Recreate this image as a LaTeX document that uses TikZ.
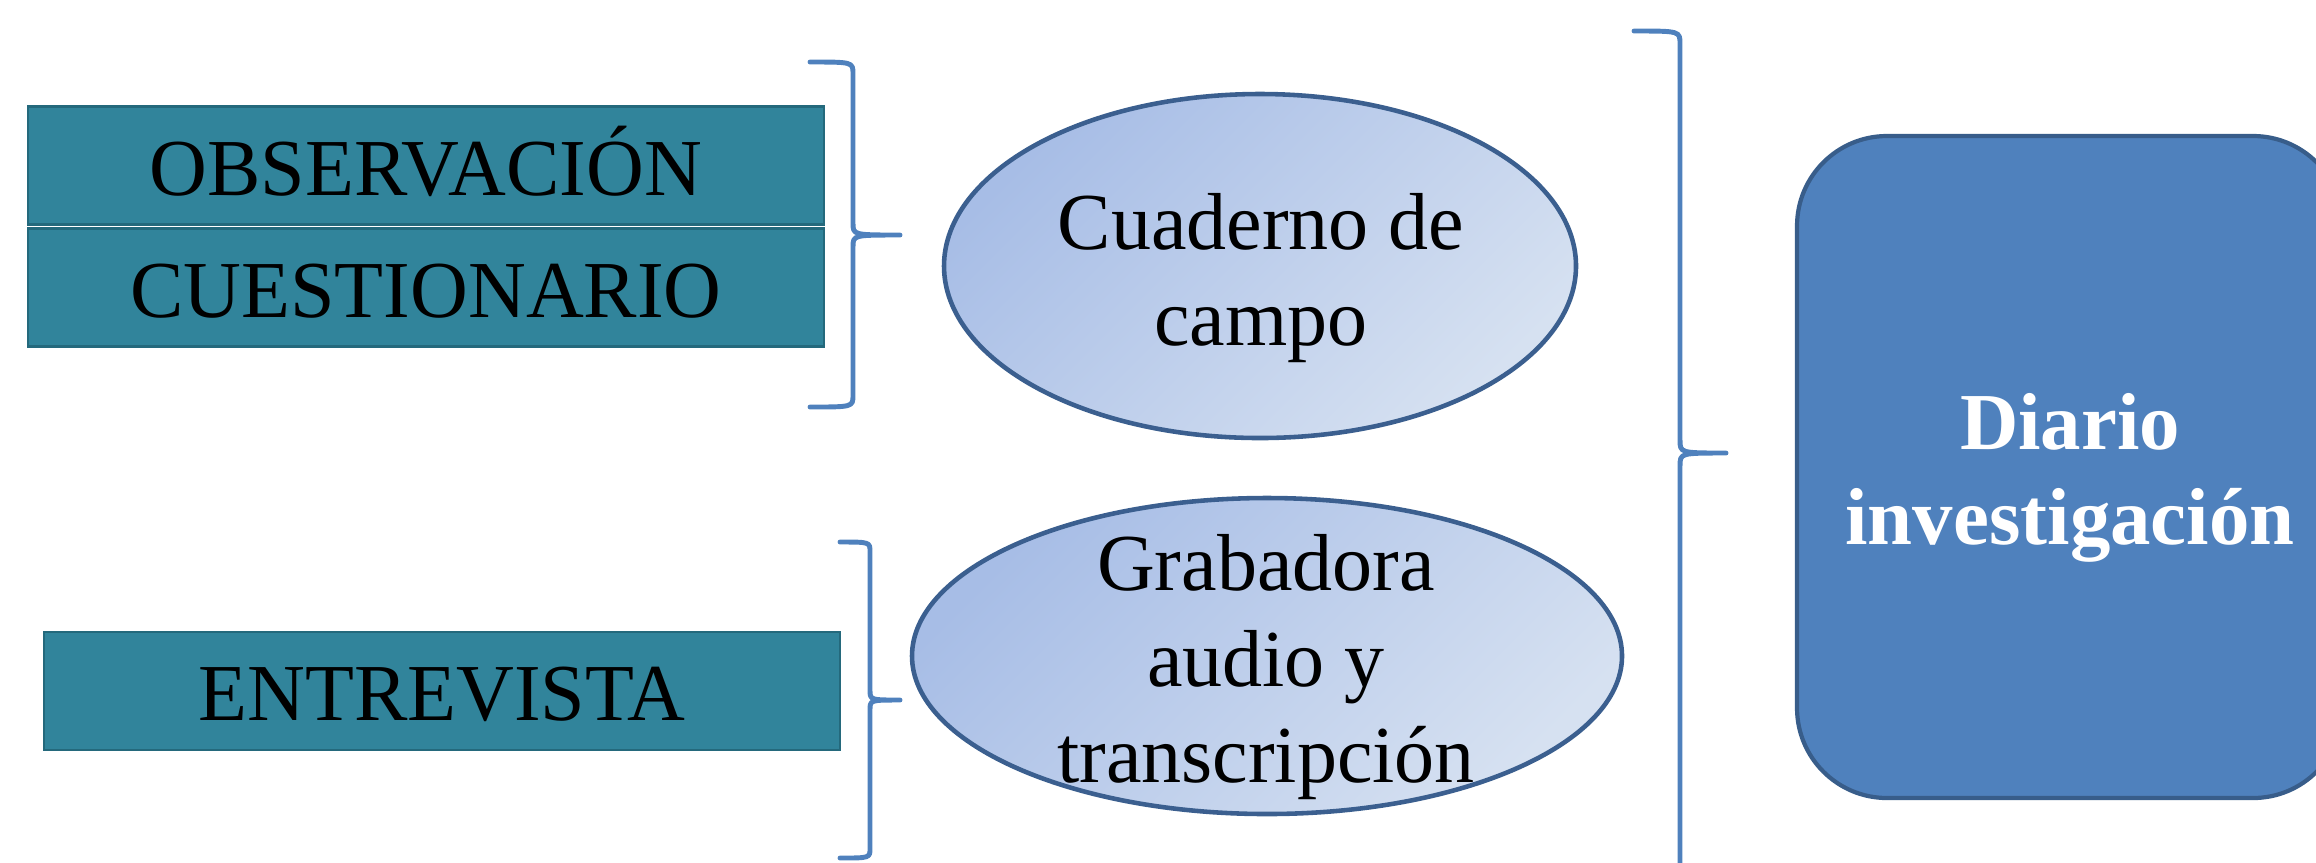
\documentclass[tikz,border=0pt]{standalone}
\usepackage{fontspec}
\setmainfont{Liberation Serif}
\newfontfamily\slimserif[FakeStretch=0.99]{Liberation Serif}
\usepackage{tikz}
\usetikzlibrary{shapes.geometric}

\definecolor{boxteal}{HTML}{31849B}
\definecolor{boxedge}{HTML}{24697C}
\definecolor{bracecol}{HTML}{4F81BD}
\definecolor{ovaledge}{HTML}{3B5F8F}
\definecolor{ovaltop}{HTML}{A7BDE6}
\definecolor{ovalbot}{HTML}{D6E1F1}
\definecolor{diariofill}{HTML}{4F81BD}
\definecolor{diarioedge}{HTML}{385D8A}

\tikzset{
  tecnica/.style={rectangle, fill=boxteal, draw=boxedge, line width=0.6pt,
    minimum height=1.18cm, inner sep=0pt,
    font=\slimserif\fontsize{23}{27.2}\selectfont, text height=17pt, text depth=0pt},
  instrumento/.style={ellipse, draw=ovaledge, line width=1.3pt,
    top color=ovaltop, bottom color=ovalbot, shading angle=45, inner sep=0pt},
  rotulo/.style={align=center, font=\slimserif\fontsize{23}{27.2}\selectfont},
  diariobox/.style={rectangle, rounded corners=0.9cm, fill=diariofill, draw=diarioedge,
    line width=1.2pt, minimum width=5.46cm, minimum height=6.62cm},
  diariotext/.style={align=center, text=white, font=\bfseries\fontsize{23}{27.2}\selectfont},
  bracket/.style={draw=bracecol, line width=1.4pt, line join=round, line cap=round}
}

\begin{document}
\begin{tikzpicture}
  \useasboundingbox (0,0) rectangle (23.16,-8.62);
  \clip (0,0) rectangle (23.16,-8.62);

  % tecnicas
  \node[tecnica, minimum width=7.96cm] (obs) at (4.26,-1.655) {OBSERVACIÓN};
  \node[tecnica, minimum width=7.96cm] (cues) at (4.26,-2.875) {CUESTIONARIO};
  \node[tecnica, minimum width=7.96cm] (entr) at (4.42,-6.91) {ENTREVISTA};

  % instrumentos
  \node[instrumento, minimum width=6.32cm, minimum height=3.44cm] (cuad) at (12.60,-2.66) {};
  \node[rotulo] (cuadtxt) at (12.61,-2.78) {Cuaderno de\\campo};
  \node[instrumento, minimum width=7.10cm, minimum height=3.16cm] (grab) at (12.67,-6.56) {};
  \node[rotulo] (grabtxt) at (12.66,-6.67) {Grabadora\\audio y\\transcripción};

  % diario
  \node[diariobox] (diario) at (20.70,-4.67) {};
  \node[diariotext] (diariotxt) at (20.70,-4.78) {Diario\\investigación};

  % llaves
  \draw[bracket] (8.10,-0.62) .. controls (8.53,-0.62) .. (8.53,-0.74) -- (8.53,-2.23)
    .. controls (8.53,-2.35) .. (9.00,-2.35) .. controls (8.53,-2.35) .. (8.53,-2.47)
    -- (8.53,-3.95) .. controls (8.53,-4.07) .. (8.10,-4.07);
  \draw[bracket] (8.40,-5.42) .. controls (8.70,-5.42) .. (8.70,-5.52) -- (8.70,-6.90)
    .. controls (8.70,-7.00) .. (9.00,-7.00) .. controls (8.70,-7.00) .. (8.70,-7.10)
    -- (8.70,-8.48) .. controls (8.70,-8.58) .. (8.40,-8.58);
  \draw[bracket] (16.34,-0.31) .. controls (16.80,-0.31) .. (16.80,-0.44) -- (16.80,-4.40)
    .. controls (16.80,-4.53) .. (17.26,-4.53) .. controls (16.80,-4.53) .. (16.80,-4.66)
    -- (16.80,-8.62) .. controls (16.80,-8.75) .. (16.34,-8.75);
\end{tikzpicture}
\end{document}
